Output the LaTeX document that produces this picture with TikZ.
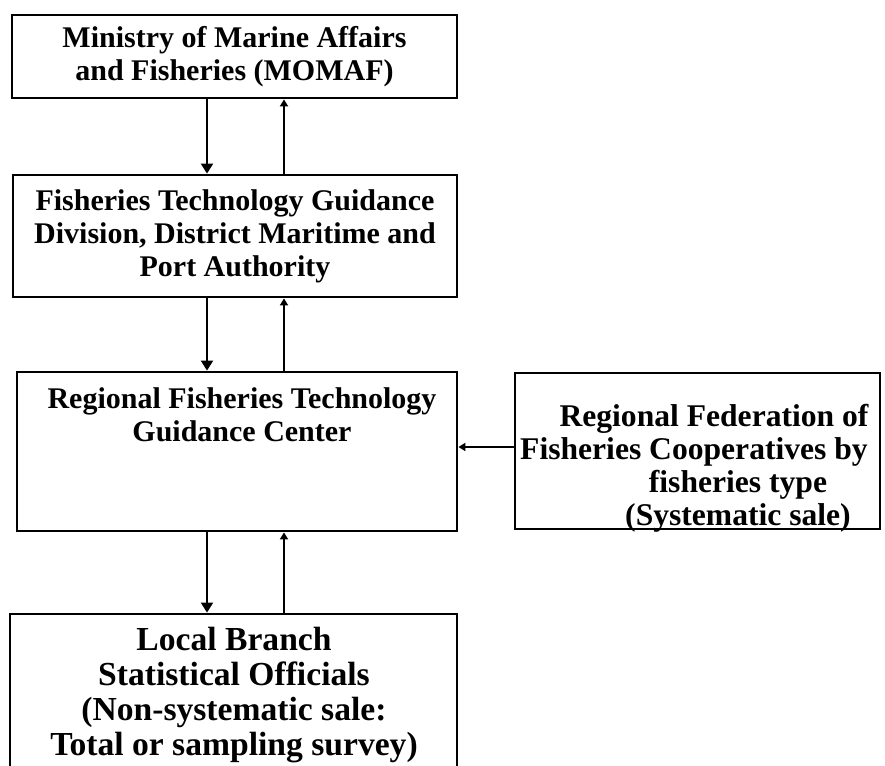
\documentclass[tikz,border=0pt]{standalone}
\usepackage{fontspec}
\setmainfont{Liberation Serif}
\usetikzlibrary{arrows.meta}
\usetikzlibrary{positioning}

\begin{document}
\begin{tikzpicture}[x=0.5pt,y=-0.5pt]
	\tikzstyle{every node}=[font=\fontsize{15}{16.5}\selectfont\bfseries]
	\tikzstyle{box}=[draw,rectangle,line width=1.4pt,inner sep=0pt,align=center]
	\tikzstyle{txt}=[align=center,inner sep=0pt,anchor=north]
	\tikzstyle{link}=[line width=1pt,-{Triangle[width=6pt,length=5pt]}]
	\tikzstyle{back}=[line width=1pt,-{Triangle[width=4pt,length=3.5pt]}]
	\useasboundingbox (0,0) rectangle (885,766);

	\node[box,minimum width=222.5pt,minimum height=41.5pt] (momaf) at (234.5,56.5)
		{Ministry of Marine Affairs\\and Fisheries (MOMAF)};
	\node[box,minimum width=222pt,minimum height=61pt] (ftgd) at (235,236)
		{Fisheries Technology Guidance\\Division, District Maritime and\\Port Authority};
	\node[box,minimum width=220pt,minimum height=79.5pt] (rftgc) at (237,451.5) {};
	\node[txt] (rftgc-txt) at (242,387) {Regional Fisheries Technology\\Guidance Center};
	\node[box,minimum width=182.5pt,minimum height=78pt] (fed) at (697.5,451) {};
	\node[txt,font=\fontsize{15.8}{16.5}\selectfont\bfseries] (fed-txt) at (694,404)
		{\hspace*{20pt}Regional Federation of\\Fisheries Cooperatives by\\
		\hspace*{44pt}fisheries type\\\hspace*{44pt}(Systematic sale)};
	\node[box,minimum width=223.5pt,minimum height=93pt] (local) at (233.5,707) {};
	\node[txt,font=\fontsize{16.8}{17.5}\selectfont\bfseries] (local-txt) at (234,627)
		{Local Branch\\Statistical Officials\\(Non-systematic sale:\\Total or sampling survey)};

	\draw[link] (207,0 |- momaf.south) -- (207,0 |- ftgd.north);
	\draw[back] (284,0 |- ftgd.north) -- (284,0 |- momaf.south);
	\draw[link] (207,0 |- ftgd.south) -- (207,0 |- rftgc.north);
	\draw[back] (284,0 |- rftgc.north) -- (284,0 |- ftgd.south);
	\draw[link] (207,0 |- rftgc.south) -- (207,0 |- local.north);
	\draw[back] (284,0 |- local.north) -- (284,0 |- rftgc.south);
	\draw[back] ([yshift=2pt]fed.west) -- ([yshift=2pt]rftgc.east |- fed.west);
\end{tikzpicture}
\end{document}
